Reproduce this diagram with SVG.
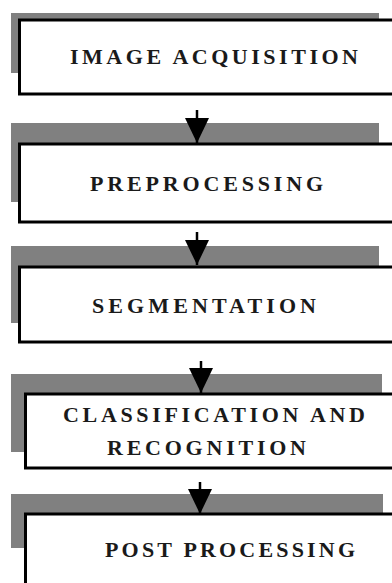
<svg xmlns="http://www.w3.org/2000/svg" width="392" height="583" viewBox="0 0 392 583">
<style>
.shadow{fill:#808080}
.box{fill:#ffffff;stroke:#000000;stroke-width:3}
.lbl{font-family:"Liberation Serif","Times New Roman",serif;font-weight:bold;font-size:22px;fill:#1a1a1a}
.conn{stroke:#000000;stroke-width:2.5;fill:none}
</style>
<defs>
<marker id="ah" markerUnits="userSpaceOnUse" viewBox="0 0 25 24" markerWidth="25" markerHeight="24" refX="25" refY="12" orient="auto">
<path d="M0,0 L25,12 L0,24 Z" fill="#000000"/>
</marker>
</defs>
<rect width="392" height="583" fill="#ffffff"/>
<g id="node-image-acquisition">
<rect class="shadow" x="11" y="13" width="368" height="60"/>
<rect class="box" x="19.5" y="20" width="380" height="74"/>
<text class="lbl" x="70" y="64" textLength="288" lengthAdjust="spacing">IMAGE ACQUISITION</text>
</g>
<g id="node-preprocessing">
<rect class="shadow" x="11" y="123" width="368" height="79"/>
<rect class="box" x="19.5" y="144" width="380" height="78"/>
<text class="lbl" x="90" y="191" textLength="233" lengthAdjust="spacing">PREPROCESSING</text>
</g>
<g id="node-segmentation">
<rect class="shadow" x="11" y="246" width="368" height="77"/>
<rect class="box" x="19.5" y="267" width="380" height="75"/>
<text class="lbl" x="92" y="313" textLength="224" lengthAdjust="spacing">SEGMENTATION</text>
</g>
<g id="node-classification">
<rect class="shadow" x="11" y="374" width="371" height="78"/>
<rect class="box" x="25.5" y="394" width="375" height="74"/>
<text class="lbl" x="63" y="422" textLength="302" lengthAdjust="spacing">CLASSIFICATION AND</text>
<text class="lbl" x="107" y="455" textLength="199" lengthAdjust="spacing">RECOGNITION</text>
</g>
<g id="node-post-processing">
<rect class="shadow" x="11" y="494" width="372" height="54"/>
<rect class="box" x="25.5" y="514" width="375" height="80"/>
<text class="lbl" x="105" y="557" textLength="250" lengthAdjust="spacing">POST PROCESSING</text>
</g>
<g id="connectors">
<line class="conn" x1="197" y1="110" x2="197" y2="143" marker-end="url(#ah)"/>
<line class="conn" x1="197" y1="232" x2="197" y2="265" marker-end="url(#ah)"/>
<line class="conn" x1="201" y1="361" x2="201" y2="393" marker-end="url(#ah)"/>
<line class="conn" x1="200" y1="482" x2="200" y2="514" marker-end="url(#ah)"/>
</g>
</svg>
